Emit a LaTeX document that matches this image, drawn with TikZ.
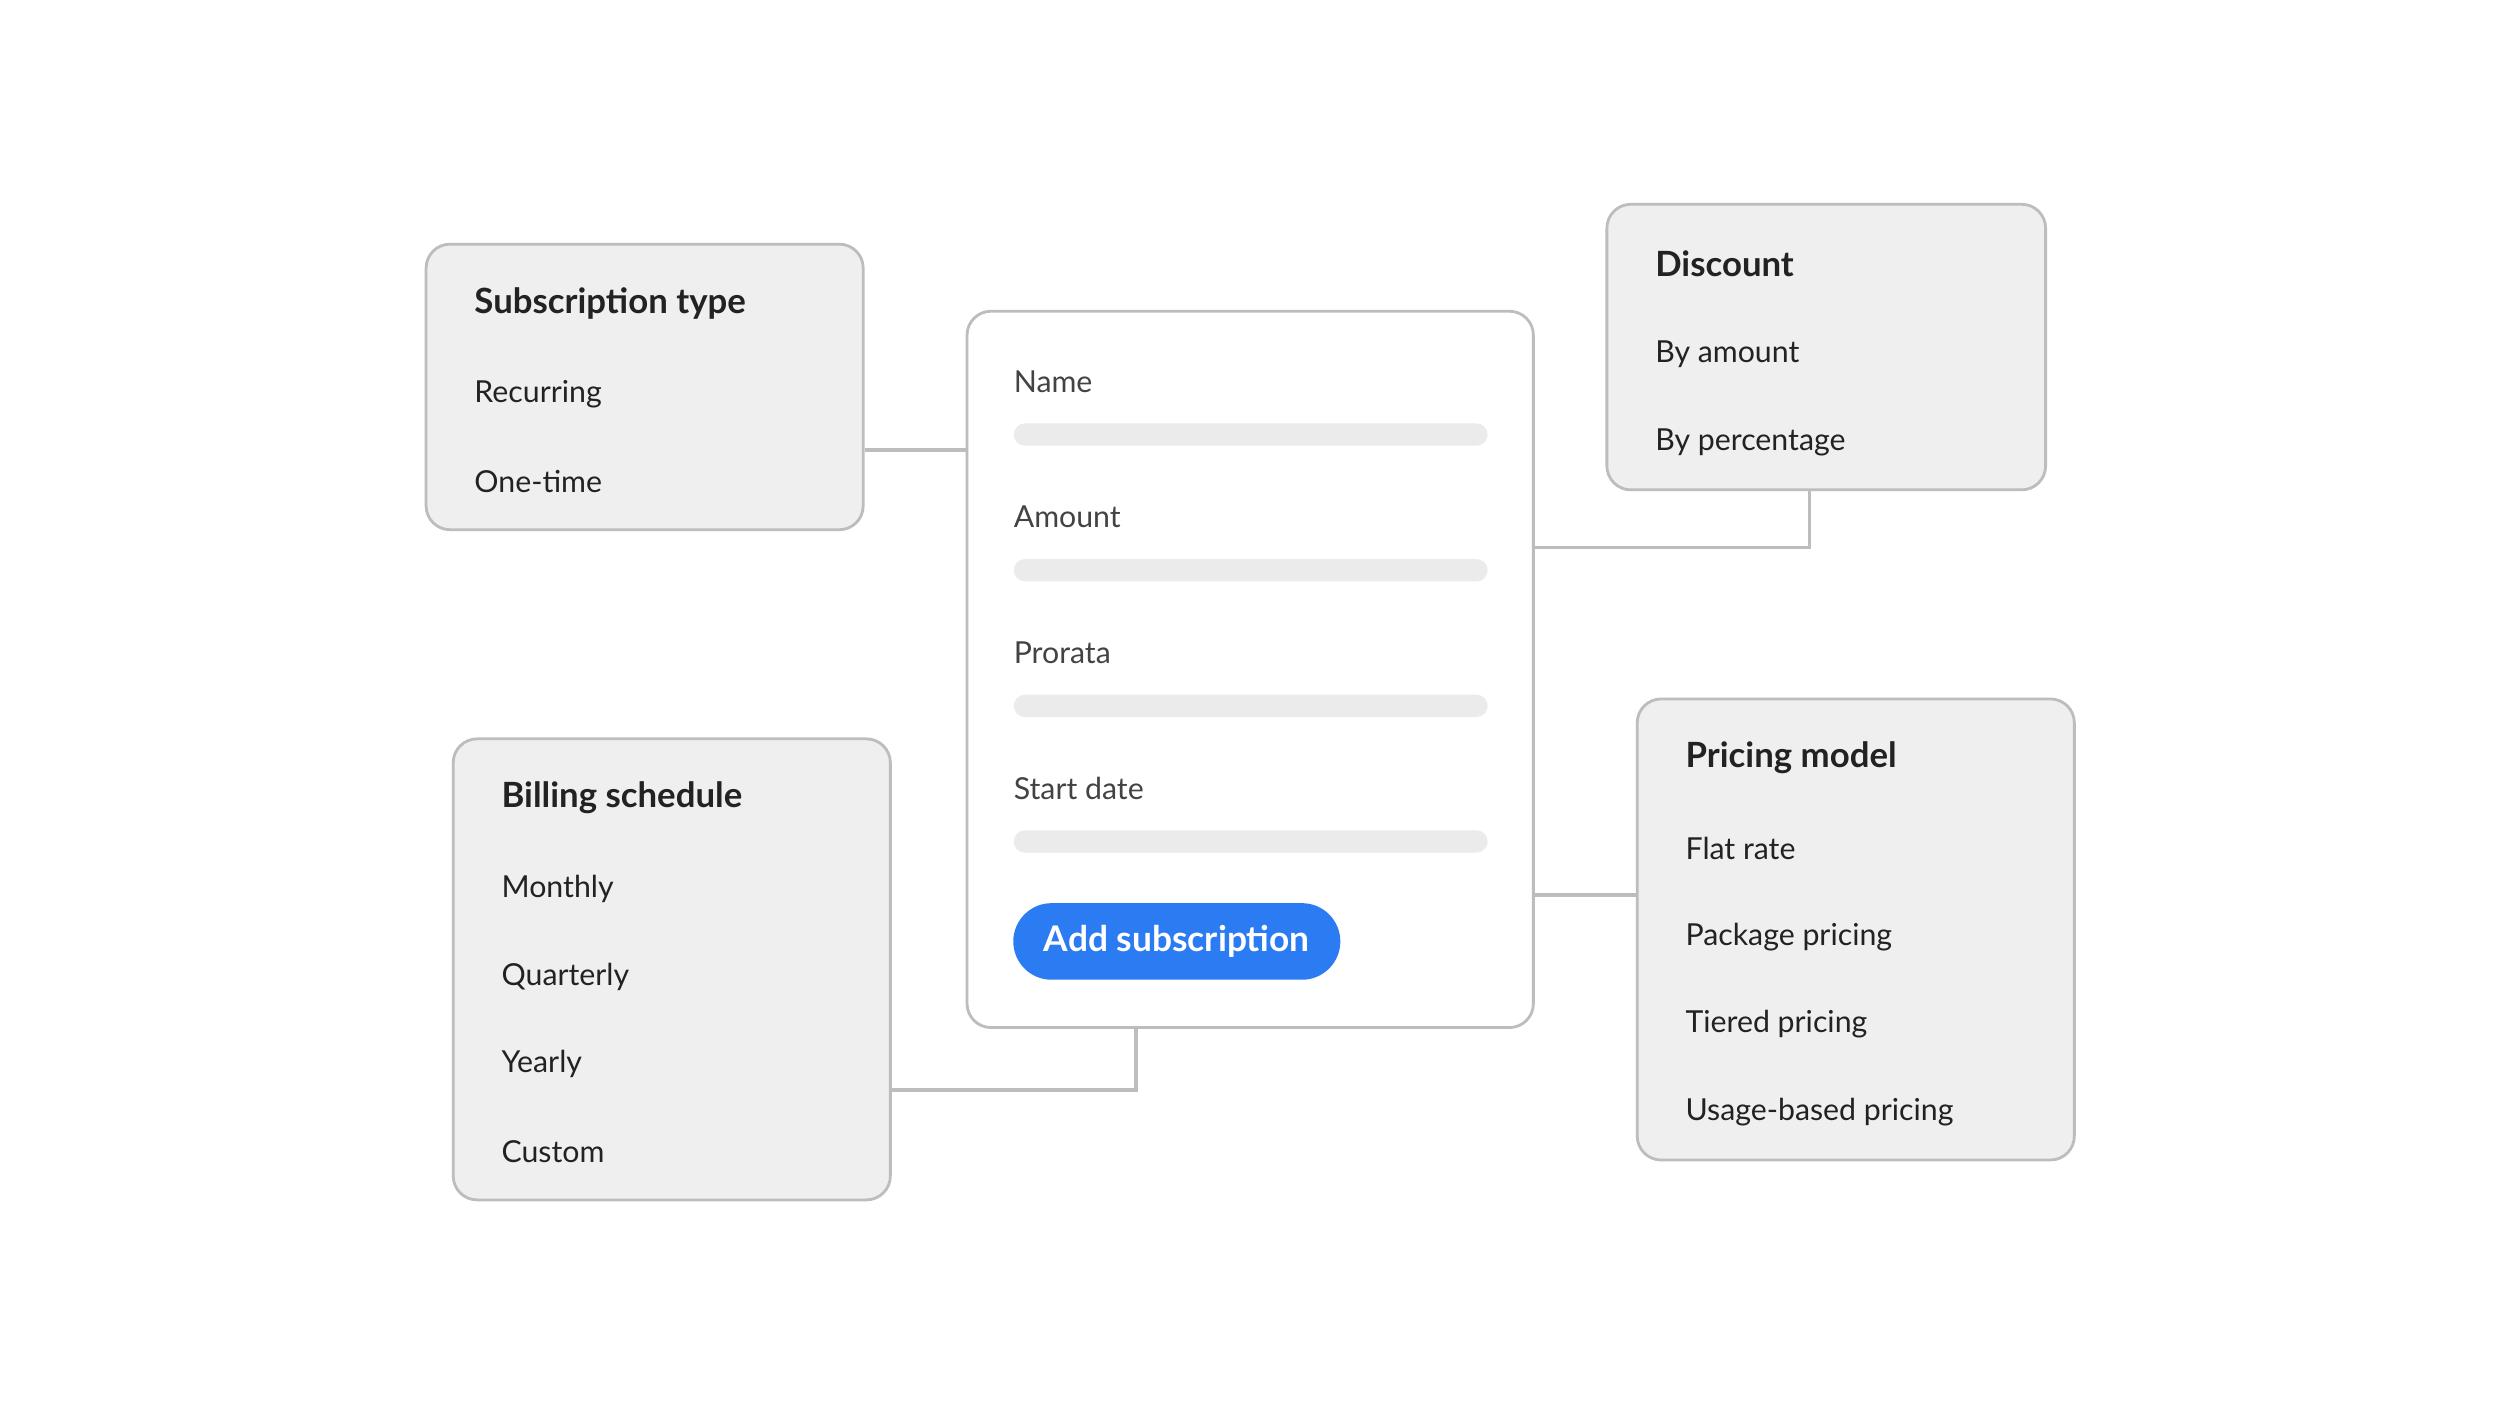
\documentclass[tikz,border=0pt]{standalone}
\usepackage{fontspec}
\setmainfont{Lato}
\usetikzlibrary{positioning}
\definecolor{panelfill}{HTML}{EFEFEF}
\definecolor{panelline}{HTML}{BDBDBD}
\definecolor{barfill}{HTML}{EBEBEB}
\definecolor{btnblue}{HTML}{2B7BF3}
\definecolor{ink}{HTML}{222222}
\tikzstyle{panel} = [draw=panelline, fill=panelfill, rounded corners=0.3cm, line width=1pt, inner sep=0]
\tikzstyle{card} = [draw=panelline, fill=white, rounded corners=0.3cm, line width=1pt, inner sep=0]
\tikzstyle{title} = [anchor=west, inner sep=0, text=ink, font=\fontsize{12.4}{14}\selectfont\bfseries]
\tikzstyle{item} = [anchor=west, inner sep=0, text=ink, font=\fontsize{10.8}{13}\selectfont]
\tikzstyle{bar} = [fill=barfill, rounded corners=0.14cm, minimum width=5.94cm, minimum height=0.28cm, inner sep=0, anchor=north west]
\tikzstyle{link} = [draw=panelline, line width=1.2pt]

\begin{document}
\begin{tikzpicture}[x=0.02cm, y=-0.02cm]
	\useasboundingbox[fill=white] (0,0) rectangle (1568,882);

	% option panels
	\node (sub) at(404,242.5) [panel, minimum width=5.48cm, minimum height=3.58cm] {};
	\node at(297,190) [title] {Subscription type};
	\node at(297,247) [item] {Recurring};
	\node at(297,302) [item] {One-time};

	\node (disc) at(1144.5,217.5) [panel, minimum width=5.5cm, minimum height=3.58cm] {};
	\node at(1037,165) [title] {Discount};
	\node at(1037,222) [item] {By amount};
	\node at(1037,277) [item] {By percentage};

	\node (bill) at(421,607.5) [panel, minimum width=5.48cm, minimum height=5.78cm] {};
	\node at(314,500) [title] {Billing schedule};
	\node at(314,557) [item] {Monthly};
	\node at(314,612) [item] {Quarterly};
	\node at(314,667) [item] {Yearly};
	\node at(314,722) [item] {Custom};

	\node (price) at(1163,582.5) [panel, minimum width=5.48cm, minimum height=5.78cm] {};
	\node at(1056,475) [title] {Pricing model};
	\node at(1056,532) [item] {Flat rate};
	\node at(1056,587) [item] {Package pricing};
	\node at(1056,642) [item] {Tiered pricing};
	\node at(1056,697) [item] {Usage-based pricing};

	% form card
	\node (form) at(783.5,419.5) [card, minimum width=7.1cm, minimum height=8.98cm] {};
	\node at(635,239) [item, text=ink!85] {Name};
	\node (b1) at(635,265) [bar] {};
	\node at(635,324) [item, text=ink!85] {Amount};
	\node (b2) at(635,350) [bar] {};
	\node at(635,409) [item, text=ink!85] {Prorata};
	\node (b3) at(635,435) [bar] {};
	\node at(635,494) [item, text=ink!85] {Start date};
	\node (b4) at(635,520) [bar] {};
	\node (add) at(737.5,590) [fill=btnblue, rounded corners=0.48cm, minimum width=4.1cm, minimum height=0.96cm, text=white, font=\fontsize{12.6}{14}\selectfont\bfseries] {Add subscription};

	% connectors
	\coordinate (k1) at(1134,343);
	\coordinate (k2) at(712,683);
	\draw[link] (sub.east |- 0,282) -- (form.west |- 0,282);
	\draw[link] (form.east |- k1) -- (k1) -- (k1 |- disc.south);
	\draw[link] (form.east |- 0,561) -- (price.west |- 0,561);
	\draw[link] (k2 |- form.south) -- (k2) -- (bill.east |- k2);
\end{tikzpicture}
\end{document}
